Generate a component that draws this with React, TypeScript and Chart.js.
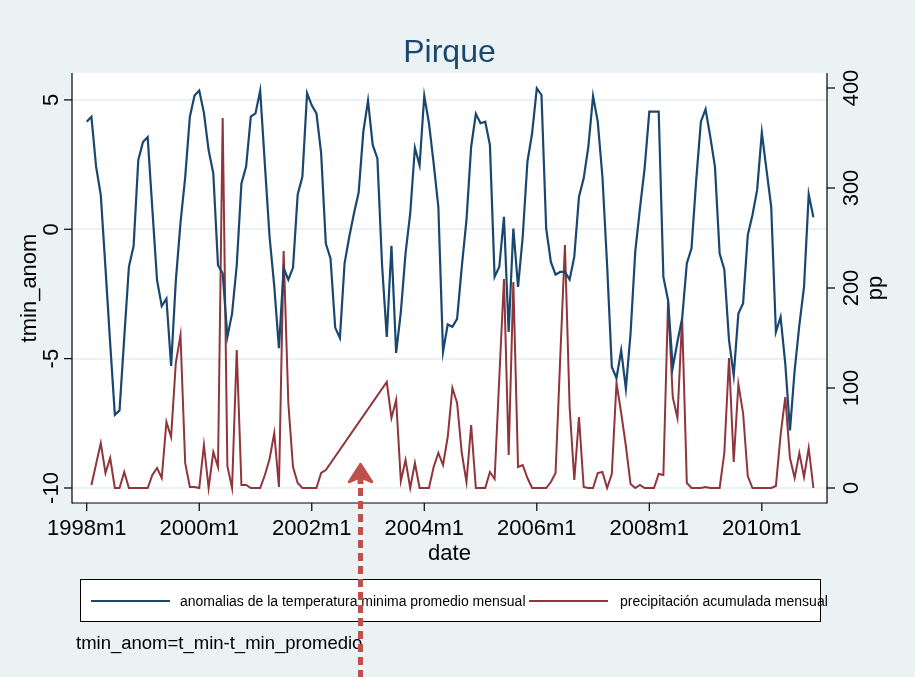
import React, { useEffect, useRef } from 'react';
import { Chart, registerables } from 'chart.js';

Chart.register(...registerables);

// ---- data (monthly, 1998m1 .. 2010m12) ----
const startYear = 1998;
const tminAnom: number[] = [
  4.16, 4.35, 2.42, 1.32, -1.5, -4.4, -7.17, -7.0, -4.2, -1.45,
  -0.65, 2.68, 3.37, 3.56, 0.78, -1.97, -2.97, -2.68, -5.28, -2.0,
  0.25, 2.0, 4.35, 5.17, 5.36, 4.5, 3.06, 2.16, -1.39, -1.7,
  -4.16, -3.26, -1.39, 1.77, 2.42, 4.35, 4.48, 5.36, 2.5, -0.29,
  -2.2, -4.6, -1.5, -1.95, -1.48, 1.35, 2.03, 5.26, 4.79, 4.48,
  2.94, -0.55, -1.13, -3.8, -4.2, -1.32, -0.29, 0.61, 1.42, 3.77,
  4.97, 3.26, 2.74, -1.4, -4.16, -0.64, -4.78, -3.2, -0.94, 0.61,
  3.15, 2.47, 5.16, 4.1, 2.55, 0.87, -4.74, -3.68, -3.77, -3.46,
  -1.45, 0.35, 3.19, 4.46, 4.1, 4.16, 3.26, -1.84, -1.45, 0.48,
  -3.97, 0.03, -2.23, -0.29, 2.61, 3.71, 5.45, 5.19, 0.03, -1.26,
  -1.75, -1.65, -1.65, -1.94, -1.06, 1.26, 1.97, 3.19, 5.15, 4.16,
  2.03, -1.4, -5.32, -5.75, -4.68, -6.16, -4.03, -0.87, 0.81, 2.35,
  4.55, 4.55, 4.55, -1.84, -2.74, -5.35, -4.35, -3.45, -1.32, -0.74,
  1.9, 4.16, 4.64, 3.58, 2.42, -0.94, -1.55, -4.29, -5.65, -3.26,
  -2.87, -0.23, 0.55, 1.52, 3.74, 2.29, 0.87, -3.97, -3.39, -5.19,
  -7.77, -5.45, -3.71, -2.23, 1.35, 0.46,
];
const pp: (number | null)[] = [
  null, 3, 24, 45, 15, 30, 0, 0, 16, 0,
  0, 0, 0, 0, 13, 20, 10, 66, 51, 125,
  153, 25, 1, 1, 0, 43, 0, 36, 21, 370,
  22, 0, 138, 3, 3, 0, 0, 0, 13, 29,
  55, 1, 237, 85, 21, 5, 0, 0, 0, 0,
  15, 18, null, null, null, null, null, null, null, null,
  null, null, null, null, 106, 70, 88, 7, 28, 0,
  25, 0, 0, 0, 21, 35, 23, 51, 100, 85,
  35, 6, 63, 0, 0, 0, 16, 9, 110, 209,
  33, 206, 21, 23, 10, 0, 0, 0, 0, 6,
  15, 130, 243, 81, 8, 71, 1, 0, 0, 15,
  16, 0, 14, 105, 75, 42, 4, 0, 3, 0,
  0, 0, 14, 13, 187, 91, 70, 170, 5, 0,
  0, 0, 1, 0, 0, 0, 35, 130, 26, 104,
  75, 12, 0, 0, 0, 0, 0, 2, 53, 91,
  30, 10, 35, 11, 40, 0,
];
const xTickMonths: number[] = [0, 24, 48, 72, 96, 120, 144];
const xTickLabels: string[] = ['1998m1', '2000m1', '2002m1', '2004m1', '2006m1', '2008m1', '2010m1'];
const yLeftTicks: number[] = [-10, -5, 0, 5];
const yRightTicks: number[] = [0, 100, 200, 300, 400];

const titleText = 'Pirque';
const legendLabels: string[] = [
  'anomalias de la temperatura minima promedio mensual',
  'precipitación acumulada mensual',
];
const noteText = 'tmin_anom=t_min-t_min_promedio';

const BLUE = '#1a476f';
const RED = '#90353b';
const BG = '#eaf2f3';
const FONT = "'Liberation Sans', Arial, Helvetica, sans-serif";

const overlay = {
  id: 'overlay',
  beforeDraw(chart: any) {
    const { ctx, chartArea } = chart;
    ctx.save();
    ctx.fillStyle = '#ffffff';
    ctx.fillRect(chartArea.left, chartArea.top, chartArea.right - chartArea.left, chartArea.bottom - chartArea.top);
    ctx.restore();
  },
  afterDraw(chart: any) {
    const ctx: CanvasRenderingContext2D = chart.ctx;
    const { left, right, top, bottom } = chart.chartArea;
    const xs = chart.scales.x;
    const yl = chart.scales.y;
    const yr = chart.scales.y1;
    const line = (x1: number, y1: number, x2: number, y2: number) => {
      ctx.beginPath();
      ctx.moveTo(x1, y1);
      ctx.lineTo(x2, y2);
      ctx.stroke();
    };
    const vtext = (t: string, x: number, y: number, font: string) => {
      ctx.save();
      ctx.translate(x, y);
      ctx.rotate(-Math.PI / 2);
      ctx.font = font;
      ctx.textAlign = 'center';
      ctx.textBaseline = 'alphabetic';
      ctx.fillText(t, 0, 0);
      ctx.restore();
    };
    ctx.save();
    // axes
    ctx.strokeStyle = '#000';
    ctx.lineWidth = 1.2;
    line(left, top, left, bottom + 0.6);
    line(right, top, right, bottom + 0.6);
    line(left, bottom, right, bottom);
    ctx.fillStyle = '#000';
    // x ticks
    ctx.font = `22px ${FONT}`;
    ctx.textAlign = 'center';
    ctx.textBaseline = 'alphabetic';
    xTickMonths.forEach((m, i) => {
      const px = xs.getPixelForValue(m);
      line(px, bottom, px, bottom + 8);
      ctx.fillText(xTickLabels[i], px, 535);
    });
    // left ticks
    yLeftTicks.forEach((v) => {
      const py = yl.getPixelForValue(v);
      line(left - 8, py, left, py);
      vtext(String(v), 58, py, `22px ${FONT}`);
    });
    // right ticks
    yRightTicks.forEach((v) => {
      const py = yr.getPixelForValue(v);
      line(right, py, right + 8, py);
      vtext(String(v), 858, py, `22px ${FONT}`);
    });
    // axis titles
    const midY = (top + bottom) / 2;
    vtext('tmin_anom', 36, midY, `22px ${FONT}`);
    vtext('pp', 882, midY, `22px ${FONT}`);
    ctx.font = `22px ${FONT}`;
    ctx.textAlign = 'center';
    ctx.fillText('date', (left + right) / 2, 560);
    // title
    ctx.fillStyle = BLUE;
    ctx.font = `32px ${FONT}`;
    ctx.fillText(titleText, (left + right) / 2, 62);
    // legend
    ctx.fillStyle = '#fff';
    ctx.fillRect(80, 579, 740, 42);
    ctx.strokeStyle = '#000';
    ctx.lineWidth = 1;
    ctx.strokeRect(80.5, 579.5, 740, 42);
    ctx.lineWidth = 2;
    ctx.strokeStyle = BLUE;
    line(91, 601, 170, 601);
    ctx.strokeStyle = RED;
    line(529, 601, 608, 601);
    ctx.fillStyle = '#000';
    ctx.font = `14px ${FONT}`;
    ctx.textAlign = 'left';
    ctx.fillText(legendLabels[0], 180, 606);
    ctx.fillText(legendLabels[1], 620, 606);
    // note
    ctx.font = `18.5px ${FONT}`;
    ctx.fillText(noteText, 76, 649);
    // red dashed arrow annotation
    const AR = '#c0504d';
    ctx.strokeStyle = AR;
    ctx.fillStyle = AR;
    ctx.lineWidth = 5;
    ctx.setLineDash([8, 5]);
    line(360.5, 488, 360.5, 677);
    ctx.setLineDash([]);
    ctx.beginPath();
    ctx.moveTo(360.5, 464);
    ctx.lineTo(372, 482);
    ctx.lineTo(360.5, 477);
    ctx.lineTo(349, 482);
    ctx.closePath();
    ctx.lineWidth = 2.5;
    ctx.lineJoin = 'round';
    ctx.fill();
    ctx.stroke();
    ctx.fillRect(357.5, 478, 6, 6);
    ctx.restore();
  },
};

export default function App() {
  const ref = useRef<HTMLCanvasElement | null>(null);
  useEffect(() => {
    document.body.style.margin = '0';
    document.body.style.background = BG;
    const canvas = ref.current;
    if (!canvas) return;
    const chart = new Chart(canvas, {
      type: 'line',
      data: {
        datasets: [
          {
            label: legendLabels[0],
            data: tminAnom.map((v, i) => ({ x: i, y: v })),
            yAxisID: 'y',
            borderColor: BLUE,
            borderWidth: 2.2,
            pointRadius: 0,
            tension: 0,
          },
          {
            label: legendLabels[1],
            data: pp.map((v, i) => ({ x: i, y: v })),
            yAxisID: 'y1',
            borderColor: RED,
            borderWidth: 2,
            pointRadius: 0,
            tension: 0,
            spanGaps: true,
          },
        ],
      },
      options: {
        animation: false,
        responsive: false,
        devicePixelRatio: 1,
        layout: { padding: { top: 73, left: 0, right: 0, bottom: 0 } },
        plugins: { legend: { display: false }, tooltip: { enabled: false }, title: { display: false } },
        scales: {
          x: {
            type: 'linear',
            position: 'bottom',
            min: -3.14,
            max: 157.9,
            ticks: { display: false },
            grid: { display: false },
            border: { display: false },
            afterFit: (s: any) => { s.height = 174; },
          },
          y: {
            type: 'linear',
            position: 'left',
            min: -10.58,
            max: 6.04,
            ticks: { display: false },
            grid: { color: BG, lineWidth: 2, drawTicks: false },
            border: { display: false },
            afterBuildTicks: (s: any) => { s.ticks = yLeftTicks.map((value) => ({ value })); },
            afterFit: (s: any) => { s.width = 72; },
          },
          y1: {
            type: 'linear',
            position: 'right',
            min: -15,
            max: 415,
            ticks: { display: false },
            grid: { display: false },
            border: { display: false },
            afterBuildTicks: (s: any) => { s.ticks = yRightTicks.map((value) => ({ value })); },
            afterFit: (s: any) => { s.width = 88; },
          },
        },
      } as any,
      plugins: [overlay],
    });
    return () => chart.destroy();
  }, []);
  return (
    <div style={{ width: 915, height: 677, background: BG, position: 'relative' }}>
      <canvas ref={ref} width={915} height={677} style={{ display: 'block' }} />
    </div>
  );
}
